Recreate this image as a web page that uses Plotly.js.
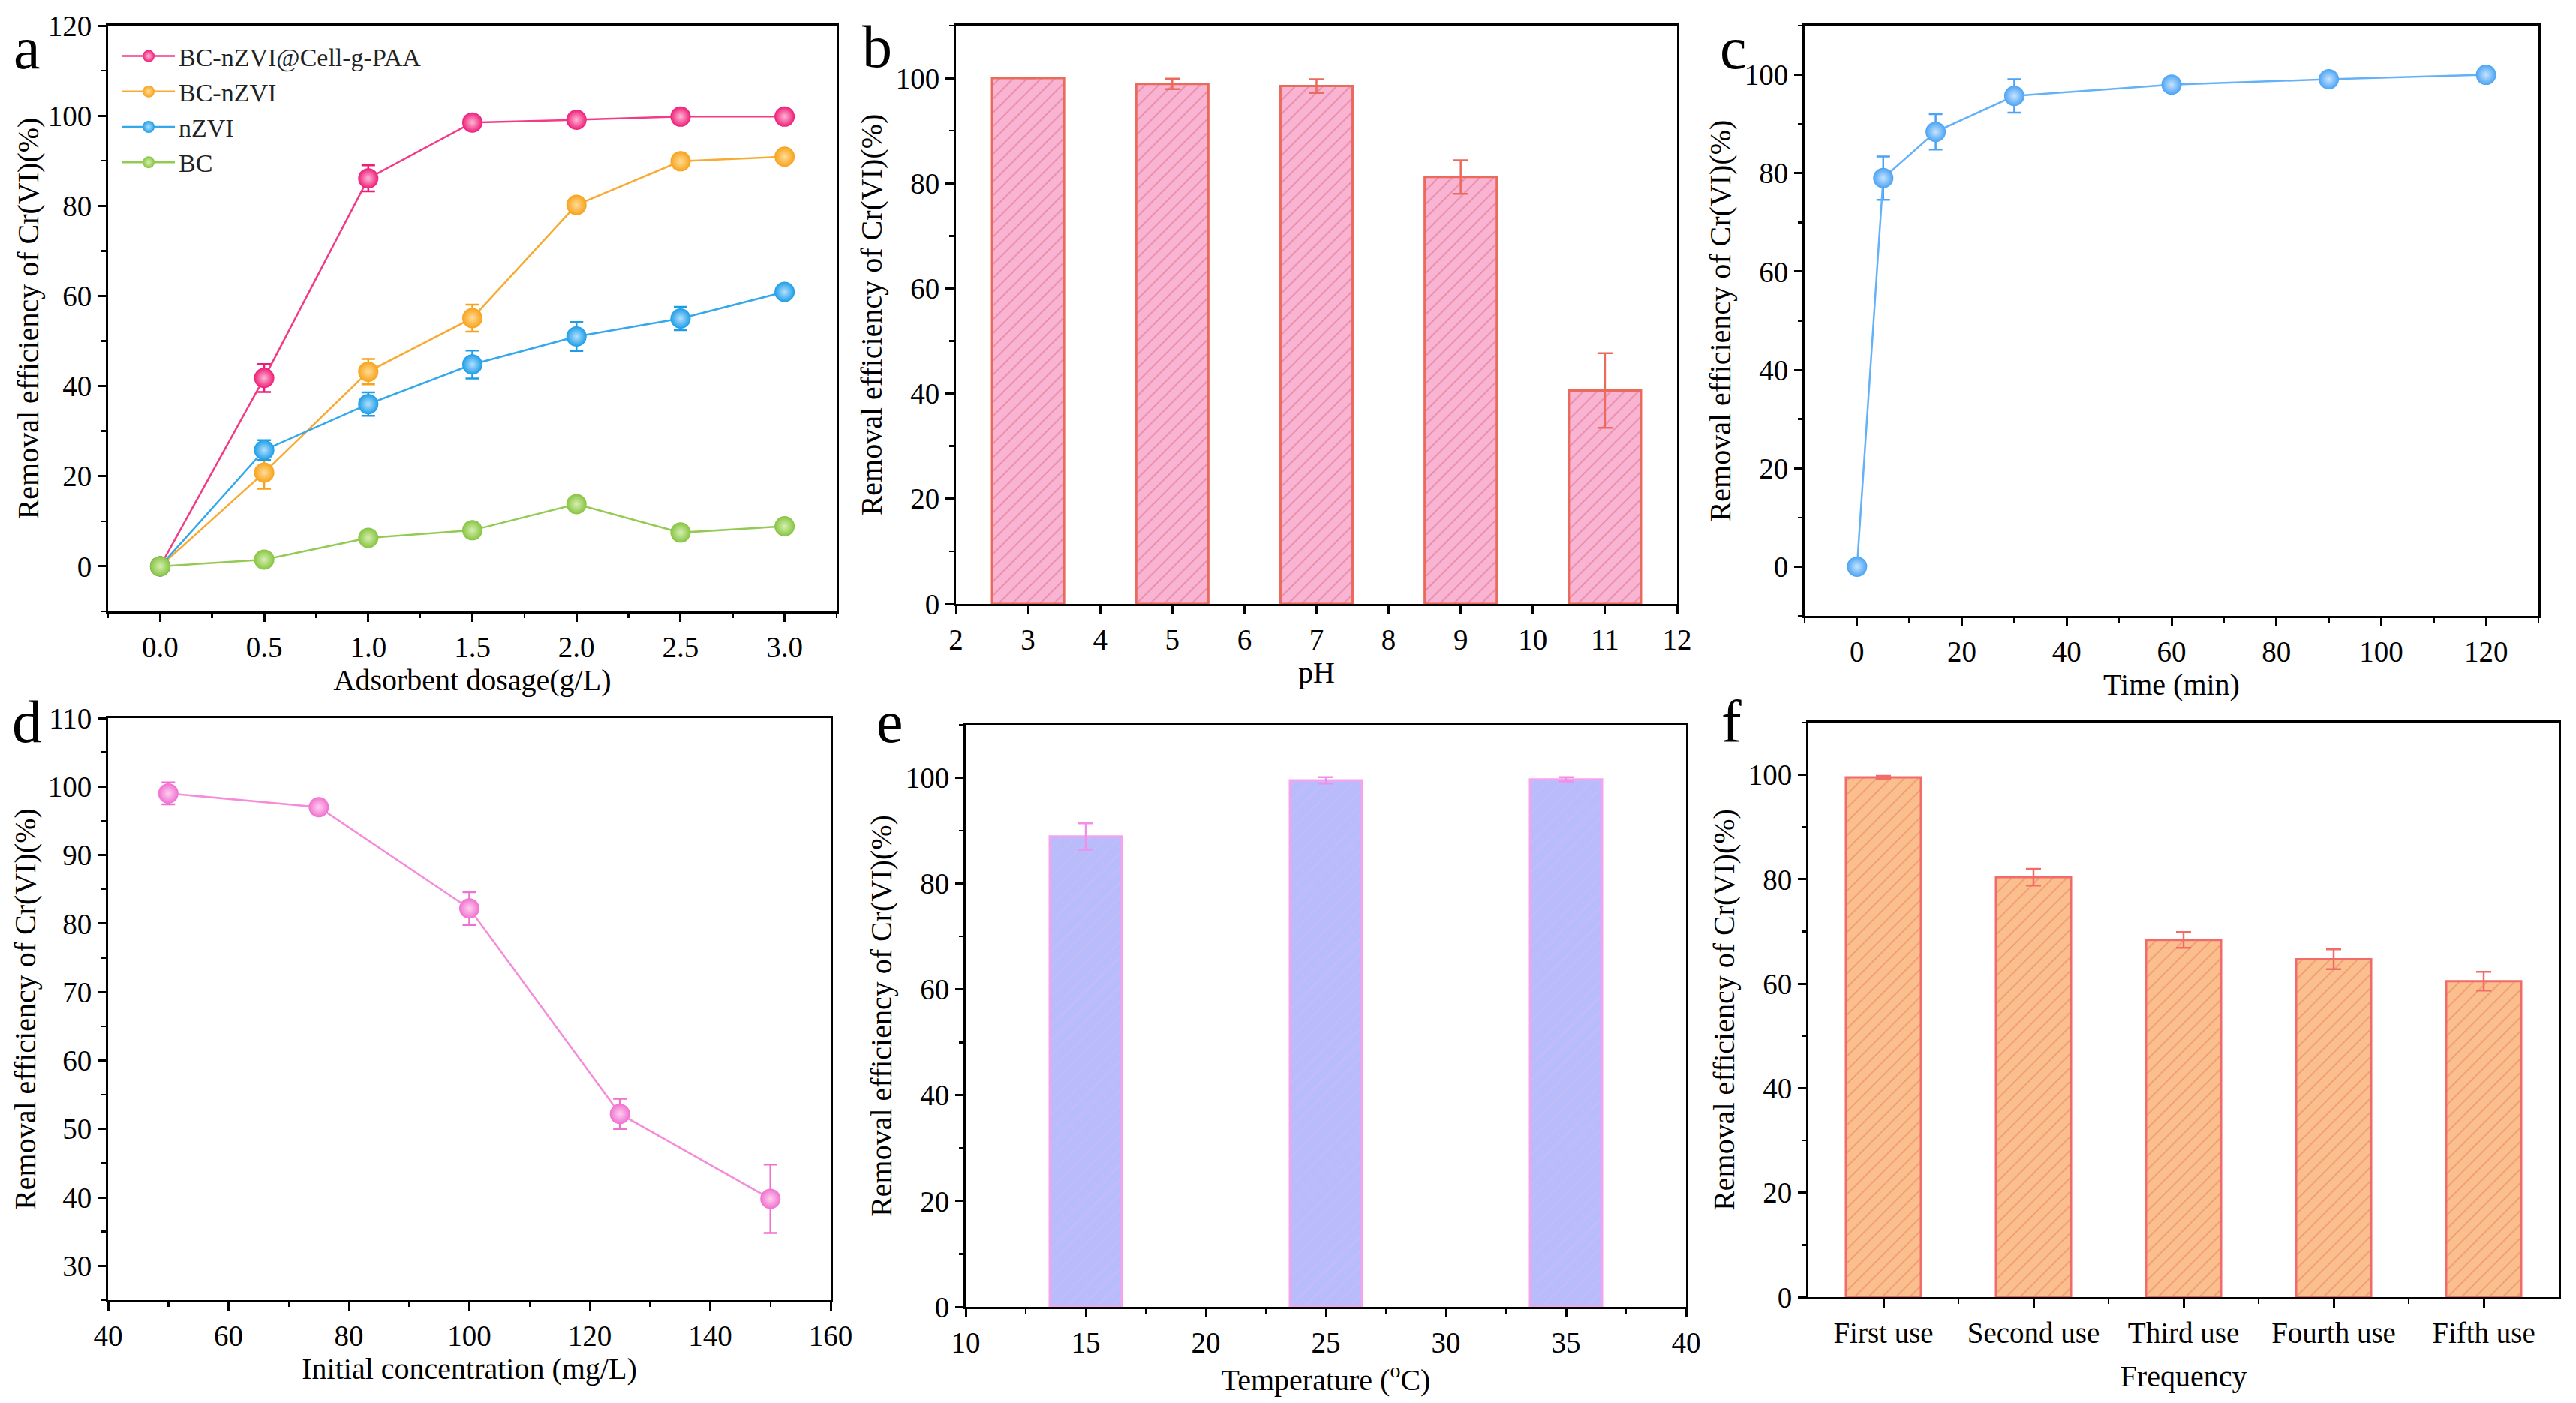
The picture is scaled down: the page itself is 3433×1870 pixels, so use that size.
<!DOCTYPE html>
<html>
<head>
<meta charset="utf-8">
<script src="https://cdn.plot.ly/plotly-3.0.1.min.js"></script>
<style>html,body{margin:0;padding:0;background:#fff;}</style>
</head>
<body>
<div id="chart" style="width:3433px;height:1870px;"></div>
<script>
// ---------- DATA ----------
// (a) adsorbent dosage
const dosage = [0, 0.5, 1.0, 1.5, 2.0, 2.5, 3.0];
const seriesNames = ['BC-nZVI@Cell-g-PAA', 'BC-nZVI', 'nZVI', 'BC'];
const aPAA = [0, 41.8, 86.1, 98.5, 99.1, 99.8, 99.8];
const aPAAerr = [0, 3.1, 2.9, 0.8, 0.6, 0.5, 0.5];
const aBCnZVI = [0, 20.8, 43.2, 55.1, 80.2, 89.9, 90.9];
const aBCnZVIerr = [0, 3.6, 2.8, 3.0, 1.6, 1.0, 1.2];
const aNZVI = [0, 25.8, 36.0, 44.8, 51.0, 55.0, 60.9];
const aNZVIerr = [0, 2.2, 2.6, 3.1, 3.2, 2.6, 1.2];
const aBC = [0, 1.5, 6.3, 8.0, 13.8, 7.5, 8.9];
const aBCerr = [0, 0.8, 1.0, 1.5, 1.1, 0.8, 1.2];

// (b) pH
const pH = [3, 5, 7, 9, 11];
const pHeff = [100, 98.9, 98.5, 81.2, 40.6];
const pHerr = [0, 1.0, 1.3, 3.2, 7.1];

// (c) time
const timeMin = [0, 5, 15, 30, 60, 90, 120];
const timeEff = [0, 79.0, 88.4, 95.7, 98.0, 99.1, 100];
const timeErr = [0, 4.4, 3.6, 3.4, 0.8, 0.4, 0.3];

// (d) initial concentration
const conc = [50, 75, 100, 125, 150];
const concEff = [99.0, 97.0, 82.2, 52.2, 39.8];
const concErr = [1.6, 0.5, 2.4, 2.2, 5.0];

// (e) temperature
const temp = [15, 25, 35];
const tempEff = [88.9, 99.5, 99.7];
const tempErr = [2.5, 0.6, 0.4];

// (f) reuse frequency
const uses = ['First use', 'Second use', 'Third use', 'Fourth use', 'Fifth use'];
const useEff = [99.5, 80.4, 68.4, 64.7, 60.5];
const useErr = [0.3, 1.6, 1.5, 1.9, 1.8];

const yTitle = 'Removal efficiency of Cr(VI)(%)';

// ---------- STYLE HELPERS ----------
const FONT = 'Liberation Serif';
const W = 3433, H = 1870;
const px = v => v / W;
const py = v => 1 - v / H;

function axis(domain, range, dtick, minorDtick, title, anchor, standoff, extra) {
  const ax = {
    domain: domain, range: range, anchor: anchor,
    showline: true, mirror: true, linecolor: '#000', linewidth: 3,
    showgrid: false, zeroline: false,
    ticks: 'outside', ticklen: 11, tickwidth: 3, tickcolor: '#000',
    tickfont: {family: FONT, size: 39, color: '#000'},
    dtick: dtick, tick0: 0,
    title: {text: title, standoff: standoff, font: {family: FONT, size: 40, color: '#000'}},
    automargin: false,
    fixedrange: true
  };
  if (minorDtick) ax.minor = {dtick: minorDtick, ticklen: 6, tickwidth: 2.5, tickcolor: '#000', ticks: 'outside', showgrid: false};
  return Object.assign(ax, extra || {});
}

function sphereLine(x, y, err, color, center, lineColor, name, xa, ya, showLeg) {
  return {
    type: 'scatter', mode: 'lines+markers', x: x, y: y, name: name,
    xaxis: xa, yaxis: ya, showlegend: !!showLeg,
    line: {color: lineColor, width: 2.5},
    marker: {size: 27, color: color, line: {width: 0},
             gradient: {type: 'radial', color: center}},
    error_y: {type: 'data', array: err, visible: true, color: color, thickness: 2.5, width: 9},
    cliponaxis: false
  };
}

const traces = [];
// (a)
traces.push(sphereLine(dosage, aPAA, aPAAerr, '#ee1c78', '#ffb8d6', '#f23a85', seriesNames[0], 'x', 'y', true));
traces.push(sphereLine(dosage, aBCnZVI, aBCnZVIerr, '#f8a21a', '#ffdc98', '#f8ab33', seriesNames[1], 'x', 'y', true));
traces.push(sphereLine(dosage, aNZVI, aNZVIerr, '#1c9de6', '#b3e0ff', '#33a8ec', seriesNames[2], 'x', 'y', true));
traces.push(sphereLine(dosage, aBC, aBCerr, '#86c440', '#d6efb2', '#92ca52', seriesNames[3], 'x', 'y', true));

// (b)
traces.push({
  type: 'bar', x: pH, y: pHeff, width: 1.0, xaxis: 'x2', yaxis: 'y2', showlegend: false,
  marker: {color: '#f9b3d3', line: {color: '#ea6a5c', width: 3},
           pattern: {shape: '/', fillmode: 'replace', bgcolor: '#f9b3d3', fgcolor: '#e98aa2', size: 13, solidity: 0.14}},
  error_y: {type: 'data', array: pHerr, visible: true, color: '#ea6a5c', thickness: 2.5, width: 10}
});

// (c)
traces.push(sphereLine(timeMin, timeEff, timeErr, '#4aa3f4', '#c6e4ff', '#63b1f8', 'time', 'x3', 'y3', false));

// (d)
traces.push(sphereLine(conc, concEff, concErr, '#f070cf', '#ffd0f0', '#f58bd9', 'conc', 'x4', 'y4', false));

// (e)
traces.push({
  type: 'bar', x: temp, y: tempEff, width: 3, xaxis: 'x5', yaxis: 'y5', showlegend: false,
  marker: {color: '#b8bcfb', line: {color: '#f6a2ef', width: 3},
           pattern: {shape: '/', fillmode: 'replace', bgcolor: '#b8bcfb', fgcolor: '#c7bcf4', size: 14, solidity: 0.12}},
  error_y: {type: 'data', array: tempErr, visible: true, color: '#f08ee8', thickness: 2.5, width: 10}
});

// (f)
const useIdx = uses.map((u, i) => i);
traces.push({
  type: 'bar', x: useIdx, y: useEff, width: 0.5, xaxis: 'x6', yaxis: 'y6', showlegend: false,
  marker: {color: '#fbbf8e', line: {color: '#f16b6b', width: 3},
           pattern: {shape: '/', fillmode: 'replace', bgcolor: '#fbbf8e', fgcolor: '#f09a72', size: 13, solidity: 0.14}},
  error_y: {type: 'data', array: useErr, visible: true, color: '#f16b6b', thickness: 2.5, width: 10}
});

const layout = {
  width: W, height: H,
  margin: {l: 0, r: 0, t: 0, b: 0},
  paper_bgcolor: '#fff', plot_bgcolor: '#fff',
  font: {family: FONT, color: '#000'},
  hovermode: false,
  showlegend: true,
  legend: {x: px(158), y: py(46), xanchor: 'left', yanchor: 'top', bgcolor: 'rgba(0,0,0,0)',
           font: {family: FONT, size: 34, color: '#222'}, tracegroupgap: 0, itemwidth: 70},
  xaxis: axis([px(144), px(1115)], [-0.25, 3.25], 0.5, 0.25, 'Adsorbent dosage(g/L)', 'y', 2, {tickformat: '.1f'}),
  yaxis: axis([py(815), py(34)], [-10, 120], 20, 10, yTitle, 'x', 0),
  xaxis2: axis([px(1274), px(2235)], [2, 12], 1, null, 'pH', 'y2', 2),
  yaxis2: axis([py(805), py(34)], [0, 110], 20, 10, yTitle, 'x2', 6),
  xaxis3: axis([px(2405), px(3383)], [-10, 130], 20, 10, 'Time (min)', 'y3', 0),
  yaxis3: axis([py(821), py(34)], [-10, 110], 20, 10, yTitle, 'x3', 6),
  xaxis4: axis([px(144), px(1107)], [40, 160], 20, 10, 'Initial concentration (mg/L)', 'y4', 10),
  yaxis4: axis([py(1733), py(957)], [25, 110], 10, 5, yTitle, 'x4', 4),
  xaxis5: axis([px(1287), px(2247)], [10, 40], 5, 2.5, 'Temperature (<sup>o</sup>C)', 'y5', 0),
  yaxis5: axis([py(1742), py(966)], [0, 110], 20, 10, yTitle, 'x5', 6),
  xaxis6: axis([px(2410), px(3410)], [-0.5, 4.5], null, null, 'Frequency', 'y6', 24,
               {tickmode: 'array', tickvals: useIdx, ticktext: uses,
                minor: {tickmode: 'array', tickvals: [0.5, 1.5, 2.5, 3.5], ticklen: 6, tickwidth: 2.5, tickcolor: '#000', ticks: 'outside', showgrid: false}}),
  yaxis6: axis([py(1729), py(963)], [0, 110], 20, 10, yTitle, 'x6', 6),
  annotations: [
    ['a', 16, 64], ['b', 1147, 62], ['c', 2290, 64],
    ['d', 14, 962], ['e', 1166, 962], ['f', 2292, 962]
  ].map(a => ({text: a[0], x: px(a[1]), y: py(a[2]), xref: 'paper', yref: 'paper',
              xanchor: 'left', yanchor: 'middle', showarrow: false,
              font: {family: FONT, size: 80, color: '#000'}}))
};

Plotly.newPlot('chart', traces, layout, {staticPlot: true, displayModeBar: false});
</script>
</body>
</html>
